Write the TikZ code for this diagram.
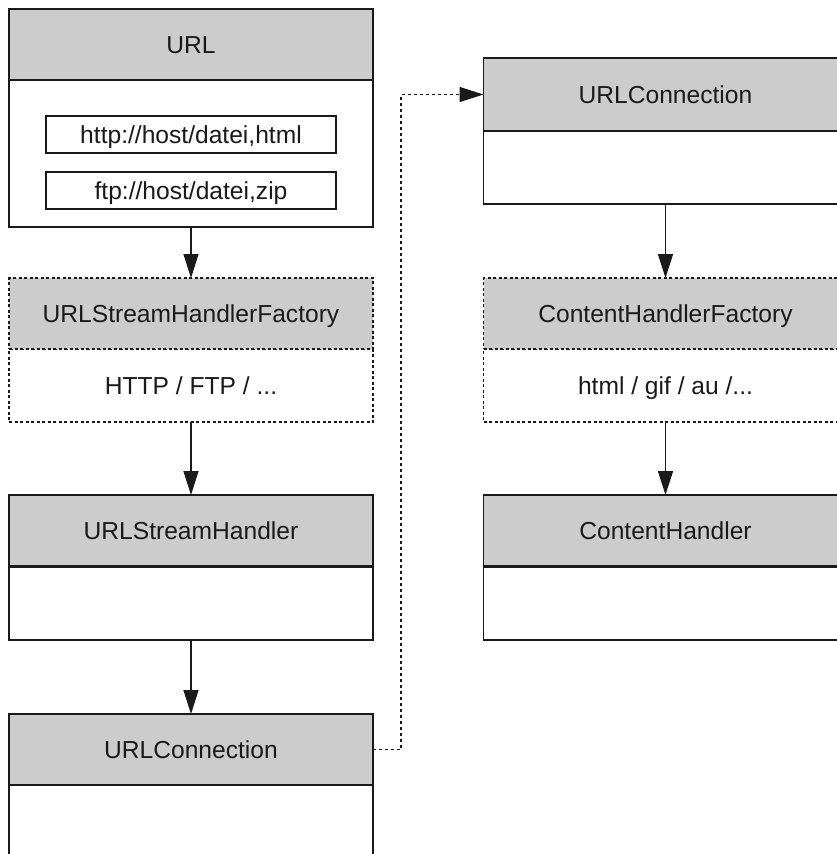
\documentclass[tikz,border=0pt]{standalone}
\usepackage{fontspec}
\setmainfont{Liberation Sans}
\usetikzlibrary{arrows.meta}
\definecolor{hdrgray}{HTML}{CCCCCC}
\definecolor{ink}{HTML}{1A1A1A}
\begin{document}
\begin{tikzpicture}[x=1pt,y=-1pt,
  basebox/.style={draw=ink, line width=1.4pt, rectangle, inner sep=0pt, outer sep=0pt,
    minimum width=364pt, text=ink, font=\fontsize{24.6}{29}\selectfont,
    text height=17.6pt, text depth=0pt, anchor=north},
  headbox/.style={basebox, fill=hdrgray, minimum height=71pt},
  bodybox/.style={basebox, fill=white, minimum height=73pt},
  dashedbox/.style={line width=1.2pt, dash pattern=on 3pt off 2.5pt},
  innerbox/.style={draw=ink, line width=1.2pt, rectangle, inner sep=0pt, minimum width=290pt,
    minimum height=37pt, text=ink, font=\fontsize{24.6}{29}\selectfont,
    text height=17.6pt, text depth=0pt},
  arr/.style={draw=ink, line width=1.4pt, -{Triangle[length=24pt,width=15pt]}},
  dotline/.style={draw=ink, line width=1.2pt, dash pattern=on 3pt off 3pt,
    -{Triangle[length=24pt,width=15pt]}}
]
\useasboundingbox (0,0) rectangle (837,854);
\clip (0,0) rectangle (837,854);
\fill[white] (0,0) rectangle (837,854);

% left column
\node[bodybox, minimum height=148pt] (urlB) at (191,79) {};
\node[headbox] (urlH) at (191,9) {URL};
\node[innerbox] (u1) at (191,134.5) {http://host/datei,html};
\node[innerbox] (u2) at (191,190.5) {ftp://host/datei,zip};

\node[bodybox, dashedbox] (shfB) at (191,349) {HTTP / FTP / ...};
\node[headbox, dashedbox] (shfH) at (191,278) {URLStreamHandlerFactory};

\node[bodybox] (shB) at (191,567) {};
\node[headbox] (shH) at (191,495) {URLStreamHandler};

\node[bodybox, minimum height=130pt] (lcB) at (191,784) {};
\node[headbox] (lcH) at (191,714) {URLConnection};

% right column
\node[bodybox] (rcB) at (665.5,131) {};
\node[headbox, minimum height=73pt] (rcH) at (665.5,58) {URLConnection};

\node[bodybox, dashedbox] (chfB) at (665.5,349) {html / gif / au /...};
\node[headbox, dashedbox] (chfH) at (665.5,278) {ContentHandlerFactory};

\node[bodybox] (chB) at (665.5,567) {};
\node[headbox] (chH) at (665.5,495) {ContentHandler};

% connectors
\draw[arr] (urlB.south) -- (shfH.north);
\draw[arr] (shfB.south) -- (shH.north);
\draw[arr] (shB.south) -- (lcH.north);
\draw[arr] (rcB.south) -- (chfH.north);
\draw[arr] (chfB.south) -- (chH.north);
\draw[dotline] (lcH.east) -- ++(28,0) |- (rcH.west);
\end{tikzpicture}
\end{document}
